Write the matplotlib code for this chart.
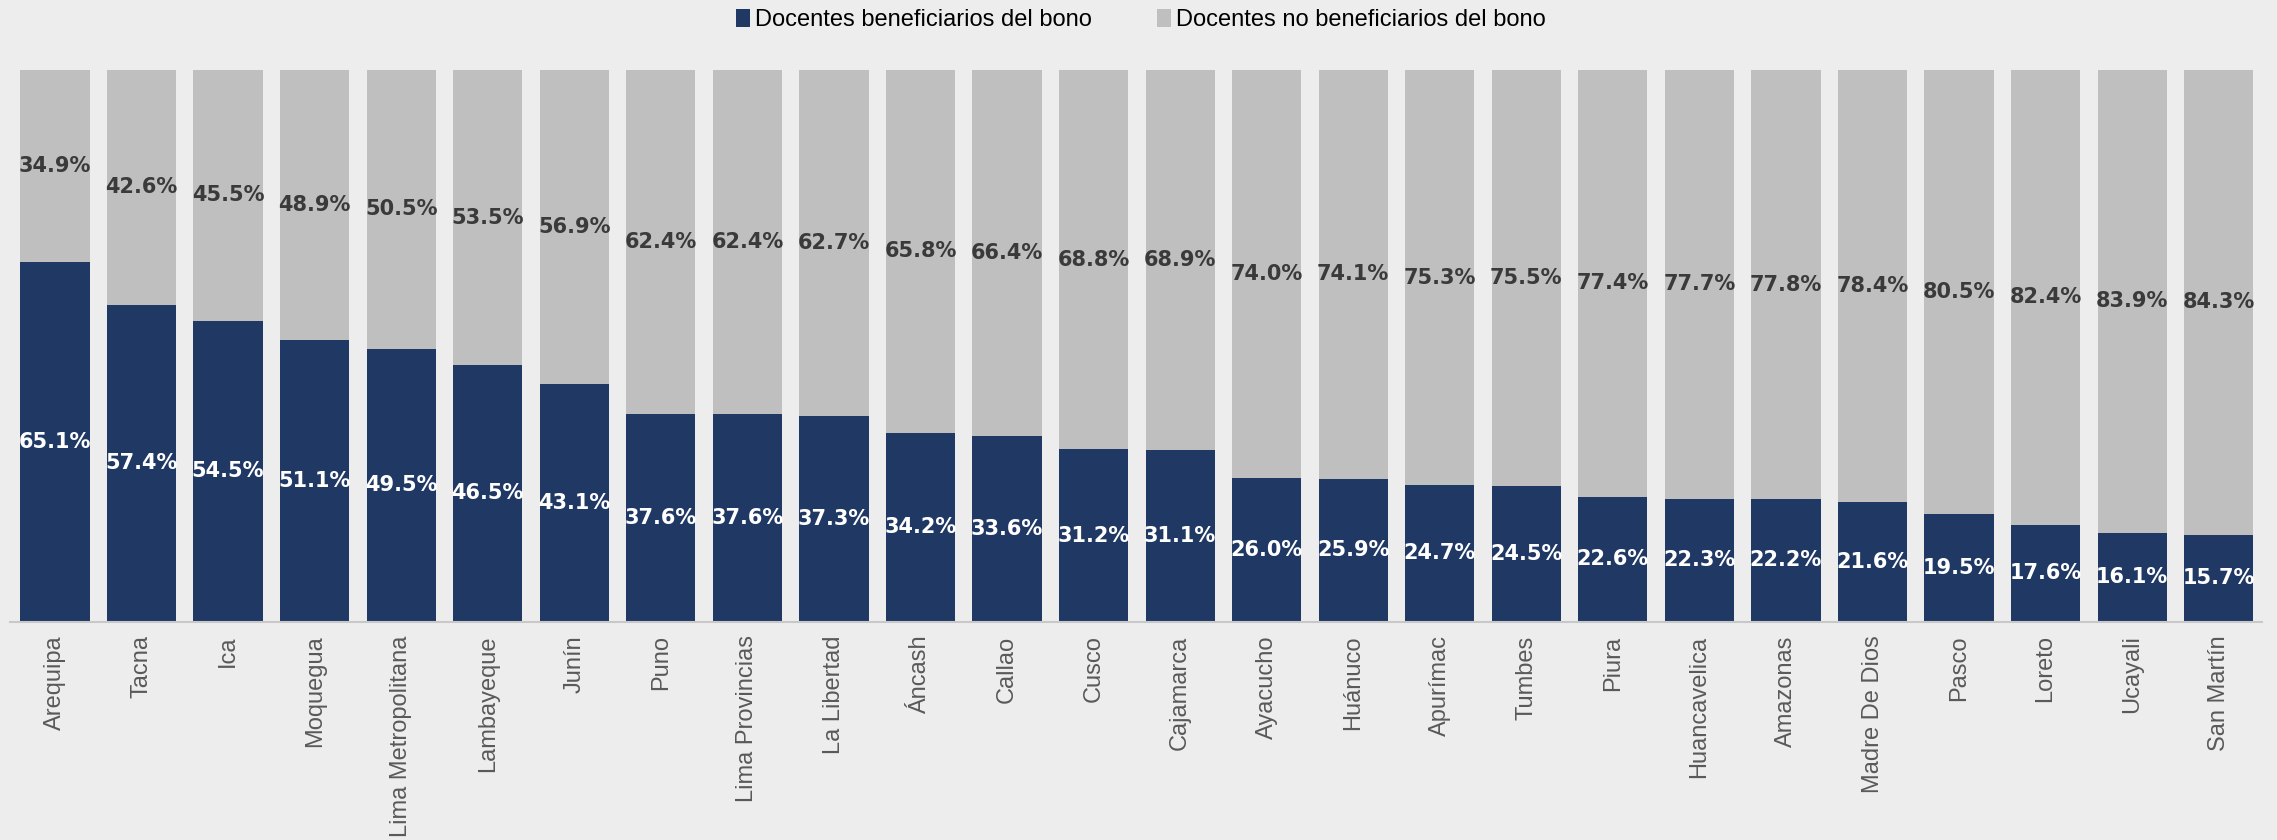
import numpy as np
import matplotlib
matplotlib.use('Agg')
import matplotlib.pyplot as plt
from matplotlib.patches import Patch

# regiones ordenadas por % de docentes beneficiarios
regiones = ['Arequipa', 'Tacna', 'Ica', 'Moquegua', 'Lima Metropolitana', 'Lambayeque',
            'Junín', 'Puno', 'Lima Provincias', 'La Libertad', 'Áncash', 'Callao',
            'Cusco', 'Cajamarca', 'Ayacucho', 'Huánuco', 'Apurímac', 'Tumbes',
            'Piura', 'Huancavelica', 'Amazonas', 'Madre De Dios', 'Pasco', 'Loreto',
            'Ucayali', 'San Martín']
beneficiarios = [65.1, 57.4, 54.5, 51.1, 49.5, 46.5, 43.1, 37.6, 37.6, 37.3, 34.2, 33.6,
                 31.2, 31.1, 26.0, 25.9, 24.7, 24.5, 22.6, 22.3, 22.2, 21.6, 19.5, 17.6,
                 16.1, 15.7]
no_beneficiarios = [34.9, 42.6, 45.5, 48.9, 50.5, 53.5, 56.9, 62.4, 62.4, 62.7, 65.8, 66.4,
                    68.8, 68.9, 74.0, 74.1, 75.3, 75.5, 77.4, 77.7, 77.8, 78.4, 80.5, 82.4,
                    83.9, 84.3]

bg = '#EDEDED'
azul = '#203864'
gris = '#BFBFBF'

fig = plt.figure(figsize=(22.77, 8.4), dpi=100, facecolor=bg)
ax = fig.add_axes([0.0044, 0.260, 0.989, 0.6567])
ax.set_facecolor(bg)

x = np.arange(len(regiones))
b = np.array(beneficiarios)
nb = np.array(no_beneficiarios)
ax.bar(x, b, width=0.8, color=azul, zorder=2)
ax.bar(x, nb, width=0.8, bottom=b, color=gris, zorder=2)

for i in range(len(x)):
    ax.text(x[i], b[i] / 2, '{:.1f}%'.format(b[i]), ha='center', va='center',
            color='white', fontsize=15, fontweight='bold', family='DejaVu Sans')
    ax.text(x[i], b[i] + nb[i] / 2, '{:.1f}%'.format(nb[i]), ha='center', va='center',
            color='#3A3A3A', fontsize=15, fontweight='bold', family='DejaVu Sans')

ax.set_xlim(-0.52, len(x) - 0.5)
ax.set_ylim(0, 100)
ax.set_yticks([])
ax.set_xticks(x)
ax.set_xticklabels(regiones, rotation=90, fontsize=17, color='#595959',
                   family=['Liberation Sans', 'DejaVu Sans'])
ax.tick_params(axis='x', length=0, pad=10)
for s in ['top', 'right', 'left']:
    ax.spines[s].set_visible(False)
ax.spines['bottom'].set_color('#C8C8C8')
ax.spines['bottom'].set_linewidth(1.5)

handles = [Patch(facecolor=azul), Patch(facecolor=gris)]
fig.legend(handles, ['Docentes beneficiarios del bono', 'Docentes no beneficiarios del bono'],
           loc='center', bbox_to_anchor=(0.501, 0.976), ncol=2, frameon=False,
           handlelength=0.6, handleheight=0.75, handletextpad=0.2, columnspacing=2.75,
           prop={'family': ['Liberation Sans', 'DejaVu Sans'], 'size': 17})

fig.savefig('out.png', dpi=100, facecolor=bg)
